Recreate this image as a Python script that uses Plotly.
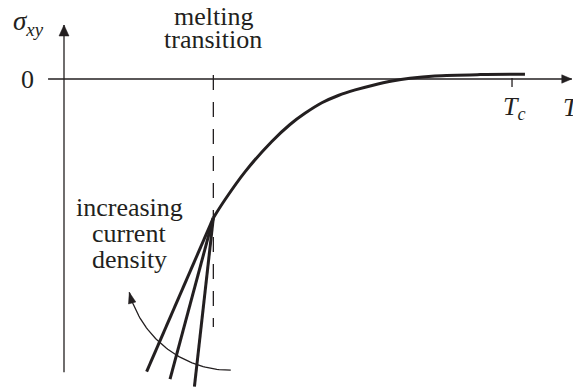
import numpy as np
import plotly.graph_objects as go

# Schematic: Hall conductivity sigma_xy versus temperature T
INK = "#231f20"
FONT = "Liberation Serif"
S = 49.78  # screen pixels per data unit (both axes)

T_c = 9.0          # critical temperature
T_m = 3.0          # melting transition
sigma_m = -2.79    # sigma_xy at the melting transition

# sigma_xy(T) above the melting transition
curve_T = [3.00, 3.23, 3.64, 4.17, 4.54, 4.84, 5.18, 5.51, 5.85, 6.19, 6.59, 6.95, 7.45, 8.36, 9.26]
curve_sigma = [-2.79, -2.43, -1.86, -1.26, -0.914, -0.69, -0.478, -0.331, -0.219, -0.129,
               -0.040, 0.016, 0.062, 0.088, 0.094]

# branches below the melting transition, one per current density
branch_end_T = [1.66, 2.13, 2.62]
branch_end_sigma = [-5.88, -6.03, -6.18]

# axis extents
x_axis_T = [-0.32, 10.2]
y_axis_sigma = [-5.89, 1.085]
dash_sigma = [0.08, -4.98]

# curved "increasing current density" arrow (circle arc)
arc_center = (3.35, -3.74)
arc_radius = 2.11
arc_deg = [-90.0, -165.0]


def arrowhead(tip, direction, length=10 / S, half=4.2 / S):
    dx, dy = direction
    n = np.hypot(dx, dy)
    dx, dy = dx / n, dy / n
    bx, by = tip[0] - dx * length, tip[1] - dy * length
    px, py = -dy * half, dx * half
    xs = [tip[0], bx + px, bx - px, tip[0]]
    ys = [tip[1], by + py, by - py, tip[1]]
    return go.Scatter(x=xs, y=ys, mode="lines", fill="toself", fillcolor=INK,
                      line=dict(color=INK, width=0.5), hoverinfo="skip", showlegend=False)


fig = go.Figure()

# axes
fig.add_trace(go.Scatter(x=x_axis_T, y=[0, 0], mode="lines",
                         line=dict(color=INK, width=1.3), showlegend=False))
fig.add_trace(go.Scatter(x=[0, 0], y=y_axis_sigma, mode="lines",
                         line=dict(color=INK, width=1.3), showlegend=False))
fig.add_trace(arrowhead((x_axis_T[1], 0), (1, 0)))
fig.add_trace(arrowhead((0, y_axis_sigma[1]), (0, 1), length=11 / S, half=5 / S))

# T_c tick
fig.add_trace(go.Scatter(x=[T_c, T_c], y=[0.02, -0.16], mode="lines",
                         line=dict(color=INK, width=1.3), showlegend=False))

# melting transition marker
fig.add_trace(go.Scatter(x=[T_m, T_m], y=dash_sigma, mode="lines",
                         line=dict(color=INK, width=1.3, dash="15px,12px"), showlegend=False))

# sigma_xy(T)
fig.add_trace(go.Scatter(x=curve_T, y=curve_sigma, mode="lines",
                         line=dict(color=INK, width=3, shape="spline", smoothing=1.0),
                         showlegend=False))

# branches for different current densities
for bt, bs in zip(branch_end_T, branch_end_sigma):
    fig.add_trace(go.Scatter(x=[T_m, bt], y=[sigma_m, bs], mode="lines",
                             line=dict(color=INK, width=3), showlegend=False))

# curved arrow
th = np.radians(np.linspace(arc_deg[0], arc_deg[1], 60))
ax_ = arc_center[0] + arc_radius * np.cos(th)
ay_ = arc_center[1] + arc_radius * np.sin(th)
fig.add_trace(go.Scatter(x=ax_, y=ay_, mode="lines",
                         line=dict(color=INK, width=1.3), showlegend=False))
t_end = th[-1]
fig.add_trace(arrowhead((ax_[-1], ay_[-1]), (np.sin(t_end), -np.cos(t_end)),
                        length=11 / S, half=3.8 / S))


def label(text, x, y, size=26, xanchor="center"):
    fig.add_annotation(x=x, y=y, text=text, showarrow=False, xanchor=xanchor,
                       yanchor="middle", font=dict(family=FONT, size=size, color=INK))


px = lambda p: p / S
label("<i>σ</i><sub><i>xy</i></sub>", px(28 - 64), px(79 - 23), size=27)
label("0", px(27 - 64), px(79 - 79))
label("melting", T_m, px(79 - 16))
label("transition", T_m, px(79 - 39))
label("increasing", px(129 - 64), px(79 - 207))
label("current", px(129 - 64), px(79 - 233))
label("density", px(129 - 64), px(79 - 259))
label("<i>T</i><sub><i>c</i></sub>", px(514 - 64), px(79 - 108))
label("<i>T</i>", px(561 - 64), px(79 - 107), xanchor="left")

W, H = 573, 387
fig.update_layout(
    width=W, height=H, margin=dict(l=0, r=0, t=0, b=0),
    paper_bgcolor="white", plot_bgcolor="white",
    font=dict(family=FONT, color=INK),
    xaxis=dict(range=[-64 / S, (W - 64) / S], visible=False, fixedrange=True),
    yaxis=dict(range=[(79 - H) / S, 79 / S], visible=False, fixedrange=True),
    showlegend=False,
)
fig.write_html("out.html")
